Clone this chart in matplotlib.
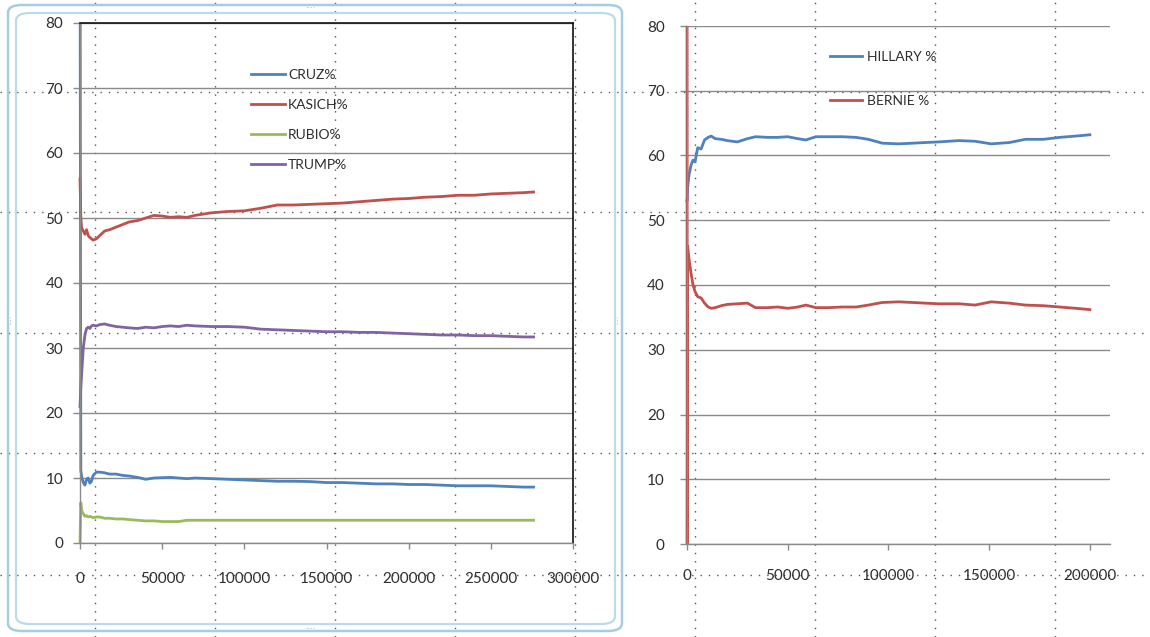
import matplotlib
matplotlib.use("Agg")
import matplotlib.pyplot as plt
from matplotlib.lines import Line2D
from matplotlib.patches import FancyBboxPatch
from matplotlib.ticker import MultipleLocator, FuncFormatter
from matplotlib.transforms import Bbox, TransformedBbox

plt.rcParams['font.family'] = ['Lato', 'DejaVu Sans']

# ---- Republican count (left chart) ----
rep_votes = [0, 500, 1000, 2000, 3000, 4000, 5000, 6000, 7000, 8000, 10000, 12000,
             15000, 18000, 22000, 26000, 30000, 35000, 40000, 45000, 50000, 55000,
             60000, 65000, 70000, 80000, 90000, 100000, 110000, 120000, 130000,
             140000, 150000, 160000, 170000, 180000, 190000, 200000, 210000,
             220000, 230000, 240000, 250000, 260000, 270000, 276000]
cruz = [100, 11.2, 10.2, 9.3, 8.9, 9.8, 10.0, 9.2, 9.5, 10.4, 10.9, 10.9, 10.8,
        10.6, 10.6, 10.4, 10.3, 10.1, 9.8, 10.0, 10.05, 10.1, 10.0, 9.9, 10.0,
        9.9, 9.8, 9.7, 9.6, 9.5, 9.5, 9.45, 9.3, 9.3, 9.2, 9.1, 9.1, 9.0, 9.0,
        8.9, 8.8, 8.8, 8.8, 8.7, 8.6, 8.6]
kasich = [56, 50, 48.5, 48, 47.5, 48.2, 47.3, 47.0, 46.8, 46.6, 46.8, 47.3, 48.0,
          48.2, 48.6, 49.0, 49.4, 49.6, 50.0, 50.4, 50.3, 50.1, 50.2, 50.1, 50.4,
          50.8, 51.0, 51.1, 51.5, 52.0, 52.0, 52.1, 52.2, 52.3, 52.5, 52.7, 52.9,
          53.0, 53.2, 53.3, 53.5, 53.5, 53.7, 53.8, 53.9, 54.0]
rubio = [0, 6.2, 5.0, 4.5, 4.1, 4.2, 4.0, 4.1, 4.0, 3.9, 4.0, 4.0, 3.8, 3.8, 3.7,
         3.7, 3.6, 3.5, 3.4, 3.4, 3.3, 3.3, 3.3, 3.5, 3.5, 3.5, 3.5, 3.5, 3.5,
         3.5, 3.5, 3.5, 3.5, 3.5, 3.5, 3.5, 3.5, 3.5, 3.5, 3.5, 3.5, 3.5, 3.5,
         3.5, 3.5, 3.5]
trump = [21, 24, 26, 30, 32, 33, 33.2, 33.0, 33.4, 33.5, 33.4, 33.6, 33.7, 33.5,
         33.3, 33.2, 33.1, 33.0, 33.2, 33.1, 33.3, 33.4, 33.3, 33.5, 33.4, 33.3,
         33.3, 33.2, 32.9, 32.8, 32.7, 32.6, 32.5, 32.5, 32.4, 32.4, 32.3, 32.2,
         32.1, 32.0, 32.0, 31.9, 31.9, 31.8, 31.7, 31.7]

# ---- Democratic count (right chart) ----
dem_votes = [0, 100, 300, 1000, 2000, 3000, 4000, 5300, 7000, 8700, 10500, 12000,
             14000, 17000, 20000, 25000, 30000, 34000, 40000, 45000, 50000, 55000,
             59000, 64000, 70000, 77000, 84000, 90000, 97000, 105000, 112000,
             118000, 125000, 135000, 143000, 151000, 160000, 168000, 177000,
             185000, 193000, 200000]
hillary = [53, 53, 55, 57, 58.5, 59.3, 59.0, 61.2, 61.0, 62.4, 62.8, 63.0, 62.6,
           62.5, 62.3, 62.1, 62.6, 62.9, 62.8, 62.8, 62.9, 62.6, 62.4, 62.9, 62.9,
           62.9, 62.8, 62.5, 61.9, 61.8, 61.9, 62.0, 62.1, 62.3, 62.2, 61.8, 62.0,
           62.5, 62.5, 62.8, 63.0, 63.2]
bernie = [100, 0, 46, 44, 41.8, 40.0, 39.0, 38.2, 38.0, 37.2, 36.6, 36.4, 36.5,
          36.8, 37.0, 37.1, 37.2, 36.5, 36.5, 36.6, 36.4, 36.6, 36.9, 36.5, 36.5,
          36.6, 36.6, 36.9, 37.3, 37.4, 37.3, 37.2, 37.1, 37.1, 36.9, 37.4, 37.2,
          36.9, 36.8, 36.6, 36.4, 36.2]

BLUE, RED, GREEN, PURPLE = '#4F81BD', '#C0504D', '#9BBB59', '#8064A2'
GRID = '#8a8a8a'
TXT = '#2e2e2e'
W, H = 1150, 637

fig = plt.figure(figsize=(W / 100, H / 100), dpi=100)
fig.patch.set_facecolor('white')


def box(x0, y0, x1, y1):
    # pixel box (top-left origin) -> figure fraction rect
    return [x0 / W, 1 - y1 / H, (x1 - x0) / W, (y1 - y0) / H]


# worksheet cell gridlines behind the charts
for yp in [92, 212, 333, 453, 575]:
    fig.add_artist(Line2D([0, 1], [1 - yp / H] * 2, transform=fig.transFigure,
                          color='#555555', lw=1.0, ls=(0, (1, 5)), zorder=0))
for xp in [95, 215, 335, 455, 575, 695, 815, 935, 1055]:
    fig.add_artist(Line2D([xp / W] * 2, [0, 1], transform=fig.transFigure,
                          color='#555555', lw=1.0, ls=(0, (1, 5)), zorder=0))

# selected chart frame (left chart)
for (x0, y0, x1, y1), c, lw in [((8, 5, 622, 631), '#a6cde0', 1.8),
                                ((16, 13, 615, 624), '#bcdbe8', 1.6)]:
    fig.add_artist(FancyBboxPatch((x0 / W, 1 - y1 / H), (x1 - x0) / W, (y1 - y0) / H,
                                  boxstyle='round,pad=0,rounding_size=0.012',
                                  transform=fig.transFigure, fill=False,
                                  edgecolor=c, lw=lw, zorder=1))
for tx, ty, s, rot in [(310, 9, '····', 0), (310, 630, '····', 0),
                       (12, 320, '····', 90), (619, 320, '····', 90)]:
    fig.text(tx / W, 1 - ty / H, s, fontsize=6, color='#8fa8b5', ha='center',
             va='center', rotation=rot, family='DejaVu Sans')


def style_axis(ax, xmax, xticks, ylab_pad, xlab_pad):
    ax.patch.set_alpha(0)
    ax.set_ylim(0, 80)
    ax.set_xlim(0, xmax)
    ax.set_xticks(xticks)
    ax.yaxis.set_major_locator(MultipleLocator(10))
    ax.xaxis.set_major_formatter(FuncFormatter(lambda v, p: f'{int(v)}'))
    ax.yaxis.grid(True, color=GRID, lw=1.0)
    ax.set_axisbelow(True)
    ax.tick_params(axis='y', length=5, width=1, color=GRID, pad=ylab_pad,
                   labelsize=11, labelcolor=TXT)
    ax.tick_params(axis='x', length=4, width=1, color=GRID, pad=xlab_pad,
                   labelsize=11, labelcolor=TXT)
    for s in ['left', 'bottom']:
        ax.spines[s].set_color(GRID)
        ax.spines[s].set_linewidth(1.0)


def loosen_clip(ax):
    # clip lines only vertically so the first near-vertical segment keeps full width
    clip = TransformedBbox(Bbox([[-0.02, 0], [1.02, 1]]), ax.transAxes)
    for ln in ax.get_lines():
        ln.set_clip_box(clip)


# left chart
ax1 = fig.add_axes(box(80, 23, 573, 543))
style_axis(ax1, 300000, range(0, 300001, 50000), 7, 17)
ax1.spines['top'].set_color('#111111')
ax1.spines['right'].set_color('#111111')
ax1.spines['top'].set_linewidth(1.2)
ax1.spines['right'].set_linewidth(1.2)
ax1.plot(rep_votes, cruz, color=BLUE, lw=2, label='CRUZ%')
ax1.plot(rep_votes, kasich, color=RED, lw=2, label='KASICH%')
ax1.plot(rep_votes, rubio, color=GREEN, lw=2, label='RUBIO%')
ax1.plot(rep_votes, trump, color=PURPLE, lw=2, label='TRUMP%')
loosen_clip(ax1)
ax1.legend(loc='upper left', bbox_to_anchor=((253 - 80) / 493 - 0.005, 1 - (69 - 23) / 520),
           frameon=False, fontsize=10, labelcolor=TXT, handlelength=2.45,
           handletextpad=0.25, labelspacing=1.3, borderpad=0, borderaxespad=0)

# right chart
ax2 = fig.add_axes(box(687, 26, 1110, 544))
style_axis(ax2, 210000, range(0, 200001, 50000), 11, 14)
ax2.spines['top'].set_visible(False)
ax2.spines['right'].set_visible(False)
ax2.plot(dem_votes, hillary, color=BLUE, lw=2, label='HILLARY %')
ax2.plot(dem_votes, bernie, color=RED, lw=2, label='BERNIE %')
loosen_clip(ax2)
ax2.legend(loc='upper left', bbox_to_anchor=((831 - 687) / 423 - 0.003, 1 - (51 - 26) / 518),
           frameon=False, fontsize=10, labelcolor=TXT, handlelength=2.3,
           handletextpad=0.4, labelspacing=2.3, borderpad=0, borderaxespad=0)

fig.savefig('out.png', dpi=100)
